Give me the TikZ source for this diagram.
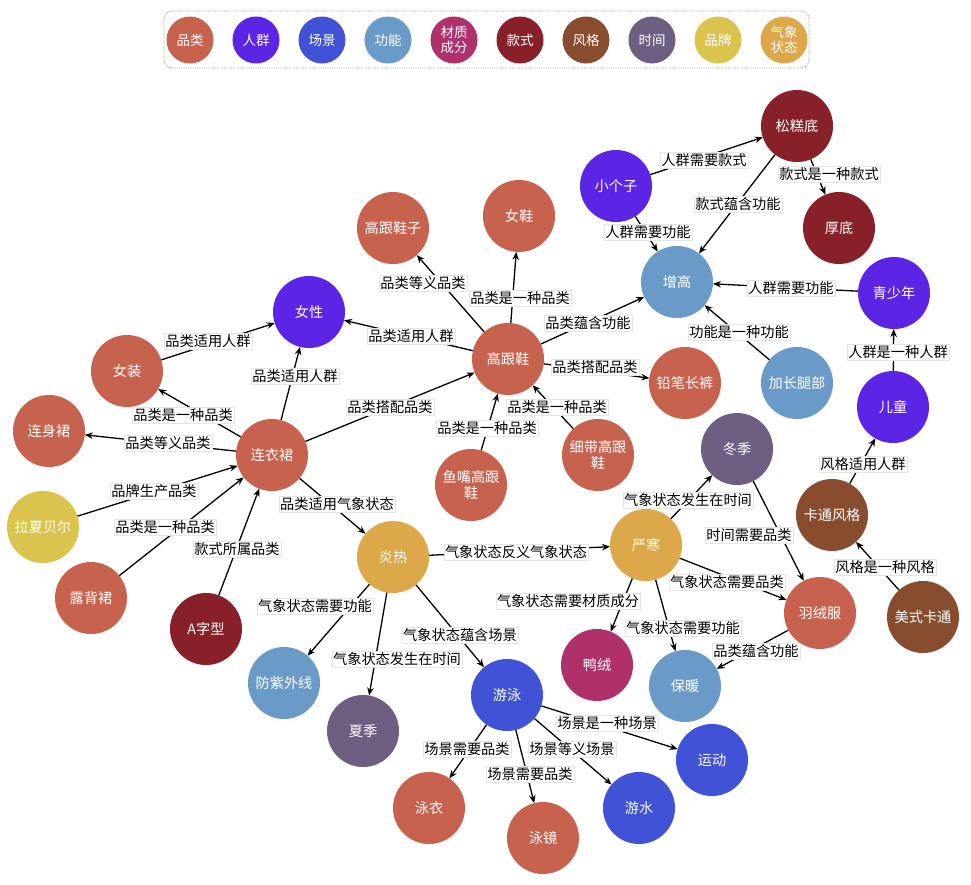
\documentclass[tikz,border=0pt]{standalone}
\usepackage{fontspec}
\setmainfont{Noto Sans CJK SC}
\usetikzlibrary{arrows.meta,calc}
\definecolor{cPinlei}{RGB}{199,98,78}
\definecolor{cRenqun}{RGB}{92,36,228}
\definecolor{cChangjing}{RGB}{64,82,214}
\definecolor{cGongneng}{RGB}{106,155,200}
\definecolor{cCaizhi}{RGB}{176,48,107}
\definecolor{cKuanshi}{RGB}{136,32,42}
\definecolor{cFengge}{RGB}{136,76,46}
\definecolor{cShijian}{RGB}{110,94,130}
\definecolor{cPinpai}{RGB}{218,196,78}
\definecolor{cQixiang}{RGB}{220,168,74}
\pgfdeclarelayer{bg}
\pgfdeclarelayer{edges}
\pgfsetlayers{bg,edges,main}
\newcommand{\rel}[5]{%
  \begin{pgfonlayer}{edges}\draw[edge] (#1) -- (#2);\end{pgfonlayer}
  \node[lbl] at (#3,#4) {#5};}
\begin{document}
\begin{tikzpicture}[x=1pt,y=-1pt,
  ent/.style={circle, minimum size=72pt, inner sep=0pt, outer sep=0pt, text=white,
    font=\fontsize{14.2}{16.5}\selectfont, align=center},
  leg/.style={ent, minimum size=47pt, font=\fontsize{13.5}{15}\selectfont},
  edge/.style={draw=black, line width=1.3pt, -{Stealth[length=8pt,width=6.5pt]}},
  lbl/.style={fill=white, draw=black!10, line width=0.3pt, inner sep=1.2pt,
    font=\fontsize{14.2}{16}\selectfont, text=black}]
\useasboundingbox (0,0) rectangle (971,884);
\begin{pgfonlayer}{bg}
\fill[white] (0,0) rectangle (971,884);
\end{pgfonlayer}

% legend
\node (legendbox) [draw=gray!80, densely dotted, line width=0.8pt, rounded corners=8pt,
  minimum width=645pt, minimum height=57pt] at (486.5,39.5) {};
\node[leg, fill=cPinlei]    (L1)  at (190,40) {品类};
\node[leg, fill=cRenqun]    (L2)  at (256,40) {人群};
\node[leg, fill=cChangjing] (L3)  at (322,40) {场景};
\node[leg, fill=cGongneng]  (L4)  at (388,40) {功能};
\node[leg, fill=cCaizhi]    (L5)  at (454,40) {材质\\成分};
\node[leg, fill=cKuanshi]   (L6)  at (520,40) {款式};
\node[leg, fill=cFengge]    (L7)  at (586,40) {风格};
\node[leg, fill=cShijian]   (L8)  at (652,40) {时间};
\node[leg, fill=cPinpai]    (L9)  at (718,40) {品牌};
\node[leg, fill=cQixiang]   (L10) at (784,40) {气象\\状态};

% entities
\node[ent, fill=cKuanshi]   (songgao)      at (797,126) {松糕底};
\node[ent, fill=cRenqun]    (xiaogezi)     at (616,186) {小个子};
\node[ent, fill=cKuanshi]   (houdi)        at (839,228) {厚底};
\node[ent, fill=cPinlei]    (gaogenxiezi)  at (393,228) {高跟鞋子};
\node[ent, fill=cPinlei]    (nvxie)        at (519,216) {女鞋};
\node[ent, fill=cGongneng]  (zenggao)      at (677,282) {增高};
\node[ent, fill=cRenqun]    (qingshaonian) at (894,293) {青少年};
\node[ent, fill=cRenqun]    (nvxing)       at (309,312) {女性};
\node[ent, fill=cPinlei]    (nvzhuang)     at (127,371) {女装};
\node[ent, fill=cPinlei]    (gaogenxie)    at (508,359) {高跟鞋};
\node[ent, fill=cPinlei]    (qianbi)       at (685,383) {铅笔长裤};
\node[ent, fill=cGongneng]  (jiachang)     at (797,383) {加长腿部};
\node[ent, fill=cRenqun]    (ertong)       at (893,407) {儿童};
\node[ent, fill=cPinlei]    (lianshenqun)  at (49,431)  {连身裙};
\node[ent, fill=cPinlei]    (lianyiqun)    at (272,455) {连衣裙};
\node[ent, fill=cShijian]   (dongji)       at (737,449) {冬季};
\node[ent, fill=cPinlei]    (yuzui)        at (471,485) {鱼嘴高跟\\鞋};
\node[ent, fill=cPinlei]    (xidai)        at (598,455) {细带高跟\\鞋};
\node[ent, fill=cFengge]    (katong)       at (832,515) {卡通风格};
\node[ent, fill=cPinpai]    (laxia)        at (43,527)  {拉夏贝尔};
\node[ent, fill=cQixiang]   (yanre)        at (393,557) {炎热};
\node[ent, fill=cQixiang]   (yanhan)       at (646,545) {严寒};
\node[ent, fill=cPinlei]    (beiqun)       at (91,598)  {露背裙};
\node[ent, fill=cFengge]    (meishi)       at (923,617) {美式卡通};
\node[ent, fill=cPinlei]    (yurongfu)     at (820,613) {羽绒服};
\node[ent, fill=cKuanshi]   (azixing)      at (206,629) {A字型};
\node[ent, fill=cCaizhi]    (yarong)       at (597,665) {鸭绒};
\node[ent, fill=cGongneng]  (baonuan)      at (685,686) {保暖};
\node[ent, fill=cGongneng]  (fangzi)       at (284,683) {防紫外线};
\node[ent, fill=cShijian]   (xiaji)        at (363,731) {夏季};
\node[ent, fill=cChangjing] (youyong)      at (507,695) {游泳};
\node[ent, fill=cChangjing] (yundong)      at (712,760) {运动};
\node[ent, fill=cPinlei]    (yongyi)       at (429,808) {泳衣};
\node[ent, fill=cPinlei]    (yongjing)     at (543,838) {泳镜};
\node[ent, fill=cChangjing] (youshui)      at (639,808) {游水};

% relations
\rel{nvzhuang}{nvxing}{208}{341}{品类适用人群}
\rel{lianyiqun}{nvxing}{295}{376}{品类适用人群}
\rel{lianyiqun}{nvzhuang}{183}{415}{品类是一种品类}
\rel{lianyiqun}{lianshenqun}{168}{443}{品类等义品类}
\rel{laxia}{lianyiqun}{154}{491}{品牌生产品类}
\rel{beiqun}{lianyiqun}{165}{527}{品类是一种品类}
\rel{azixing}{lianyiqun}{237}{549}{款式所属品类}
\rel{lianyiqun}{gaogenxie}{390}{407}{品类搭配品类}
\rel{lianyiqun}{yanre}{337}{504}{品类适用气象状态}
\rel{gaogenxie}{nvxing}{411}{336}{品类适用人群}
\rel{gaogenxie}{gaogenxiezi}{423}{283}{品类等义品类}
\rel{gaogenxie}{nvxie}{520}{298}{品类是一种品类}
\rel{gaogenxie}{zenggao}{588}{323}{品类蕴含功能}
\rel{gaogenxie}{qianbi}{595}{367}{品类搭配品类}
\rel{xidai}{gaogenxie}{557}{407}{品类是一种品类}
\rel{yuzui}{gaogenxie}{487}{428}{品类是一种品类}
\rel{xiaogezi}{songgao}{704}{160}{人群需要款式}
\rel{xiaogezi}{zenggao}{648}{232}{人群需要功能}
\rel{songgao}{zenggao}{738}{204}{款式蕴含功能}
\rel{songgao}{houdi}{829}{174}{款式是一种款式}
\rel{qingshaonian}{zenggao}{791}{288}{人群需要功能}
\rel{jiachang}{zenggao}{739}{332}{功能是一种功能}
\rel{ertong}{qingshaonian}{898}{352}{人群是一种人群}
\rel{katong}{ertong}{863}{464}{风格适用人群}
\rel{meishi}{katong}{885}{567}{风格是一种风格}
\rel{yanhan}{dongji}{688}{500}{气象状态发生在时间}
\rel{dongji}{yurongfu}{749}{535}{时间需要品类}
\rel{yanhan}{yurongfu}{727}{582}{气象状态需要品类}
\rel{yanhan}{baonuan}{683}{628}{气象状态需要功能}
\rel{yurongfu}{baonuan}{756}{651}{品类蕴含功能}
\rel{yanhan}{yarong}{568}{601}{气象状态需要材质成分}
\rel{yanre}{yanhan}{516}{552}{气象状态反义气象状态}
\rel{yanre}{fangzi}{315}{606}{气象状态需要功能}
\rel{yanre}{xiaji}{397}{659}{气象状态发生在时间}
\rel{yanre}{youyong}{460}{635}{气象状态蕴含场景}
\rel{youyong}{yongyi}{467}{749}{场景需要品类}
\rel{youyong}{yongjing}{530}{774}{场景需要品类}
\rel{youyong}{youshui}{572}{749}{场景等义场景}
\rel{youyong}{yundong}{607}{723}{场景是一种场景}
\end{tikzpicture}
\end{document}
